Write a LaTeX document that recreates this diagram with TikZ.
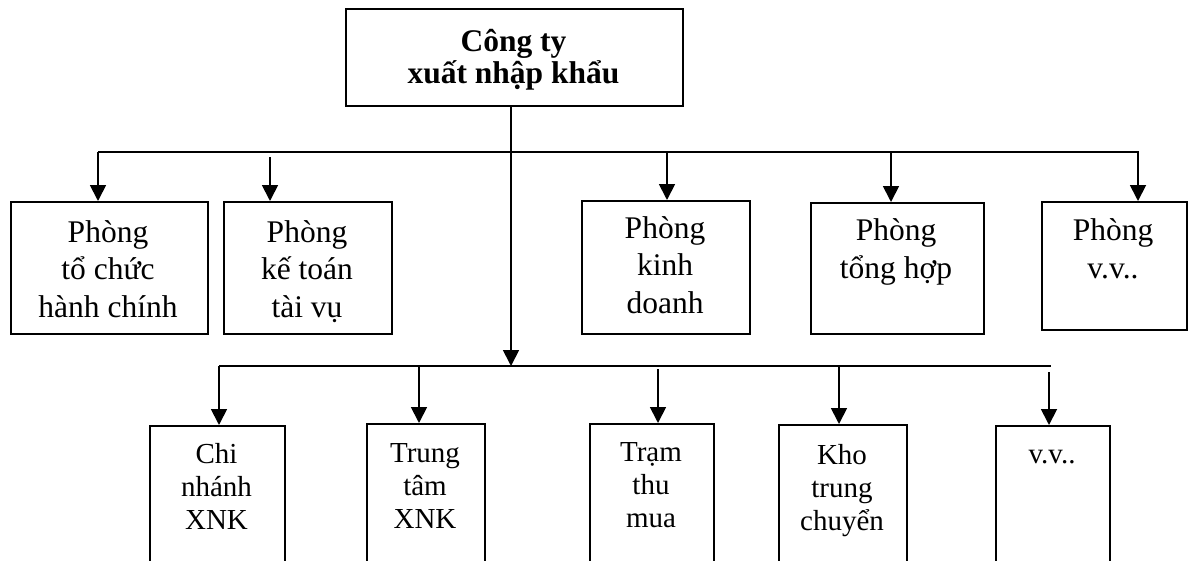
\documentclass[tikz,border=0pt]{standalone}
\usepackage{fontspec}
\setmainfont{Liberation Serif}
\usetikzlibrary{arrows.meta}

\begin{document}
\begin{tikzpicture}[x=1pt,y=-1pt,
  box/.style={draw, line width=1.8pt, inner sep=0pt, anchor=north west},
  link/.style={line width=1.8pt},
  arr/.style={line width=1.8pt, -{Triangle[width=16pt,length=16pt]}},
  % base anchor of a multi-line text sits on its last line
  headtxt/.style={font=\fontsize{31.5}{32}\selectfont\bfseries, align=center, anchor=base, inner sep=0pt},
  depttxt/.style={font=\fontsize{31.5}{37.5}\selectfont, align=center, anchor=base, inner sep=0pt},
  unittxt/.style={font=\fontsize{29}{33}\selectfont, align=center, anchor=base, inner sep=0pt}
]
\clip (0,0) rectangle (1189,560);

% head office
\node[box, minimum width=337pt, minimum height=97pt] (top) at (345,8) {};
\node[headtxt] (toptxt) at (513.5,83) {Công ty\\xuất nhập khẩu};

% departments
\node[box, minimum width=197pt, minimum height=132pt] (b1) at (10,201) {};
\node[box, minimum width=168pt, minimum height=132pt] (b2) at (223,201) {};
\node[box, minimum width=168pt, minimum height=133pt] (b3) at (581,200) {};
\node[box, minimum width=173pt, minimum height=131pt] (b4) at (810,202) {};
\node[box, minimum width=145pt, minimum height=128pt] (b5) at (1041,201) {};
\node[depttxt] (t1) at (108,317) {Phòng\\tổ chức\\hành chính};
\node[depttxt] (t2) at (307,317) {Phòng\\kế toán\\tài vụ};
\node[depttxt] (t3) at (665,313) {Phòng\\kinh\\doanh};
\node[depttxt] (t4) at (896,278) {Phòng\\tổng hợp};
\node[depttxt] (t5) at (1113,278) {Phòng\\v.v..};

% units
\node[box, minimum width=135pt, minimum height=150pt] (c1) at (149,425) {};
\node[box, minimum width=118pt, minimum height=150pt] (c2) at (366,423) {};
\node[box, minimum width=124pt, minimum height=150pt] (c3) at (589,423) {};
\node[box, minimum width=128pt, minimum height=150pt] (c4) at (778,424) {};
\node[box, minimum width=114pt, minimum height=150pt] (c5) at (995,425) {};
\node[unittxt] (s1) at (216.5,529) {Chi\\nhánh\\XNK};
\node[unittxt] (s2) at (425,528) {Trung\\tâm\\XNK};
\node[unittxt] (s3) at (651,527) {Trạm\\thu\\mua};
\node[unittxt] (s4) at (842,530) {Kho\\trung\\chuyển};
\node[unittxt] (s5) at (1052,463) {v.v..};

% upper bus
\coordinate (uL) at (98,152);
\coordinate (uR) at (1139,152);
\coordinate (ua2) at (270,157);
\coordinate (ua3) at (667,152);
\coordinate (ua4) at (891,152);
\coordinate (ua5) at (1138,152);
\draw[link] (uL) -- (uR);
\draw[arr] (uL) -- (uL |- b1.north);
\draw[arr] (ua2) -- (ua2 |- b2.north);
\draw[arr] (ua3) -- (ua3 |- b3.north);
\draw[arr] (ua4) -- (ua4 |- b4.north);
\draw[arr] (ua5) -- (ua5 |- b5.north);

% lower bus
\coordinate (hub) at (511,366);
\coordinate (lL) at (219,366);
\coordinate (lR) at (1051,366);
\coordinate (la2) at (419,366);
\coordinate (la3) at (658,369);
\coordinate (la4) at (839,366);
\coordinate (la5) at (1049,372);
\draw[link] (lL) -- (lR);
\draw[arr] (top.south -| hub) -- (hub);
\draw[arr] (lL) -- (lL |- c1.north);
\draw[arr] (la2) -- (la2 |- c2.north);
\draw[arr] (la3) -- (la3 |- c3.north);
\draw[arr] (la4) -- (la4 |- c4.north);
\draw[arr] (la5) -- (la5 |- c5.north);
\end{tikzpicture}
\end{document}
